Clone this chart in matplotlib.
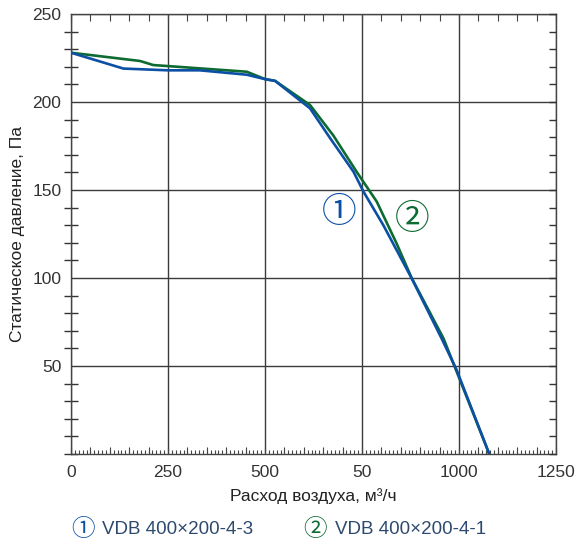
import matplotlib
matplotlib.use("Agg")
import matplotlib.pyplot as plt
from matplotlib.ticker import MultipleLocator, FixedLocator, FixedFormatter, NullFormatter

plt.rcParams['font.family'] = ['Liberation Sans', 'DejaVu Sans']

# ---- data ----
flow_1 = [0, 135, 250, 332, 453, 500, 526, 616, 668, 728, 754, 805, 878, 955, 994, 1078]
pres_1 = [228, 219, 218, 218, 215.5, 213, 212, 196.4, 179.4, 160.4, 149, 130, 99.8, 65.7, 47.7, 0]

flow_2 = [0, 178, 212, 453, 500, 526, 616, 676, 736, 788, 839, 878, 960, 1078]
pres_2 = [228, 223.3, 221, 217.2, 213, 212, 198.3, 181, 160.4, 143.4, 119.7, 100, 65.7, 0]

x_ticks = [0, 250, 500, 750, 1000, 1250]
x_tick_labels = ['0', '250', '500', '50', '1000', '1250']
y_ticks = [50, 100, 150, 200, 250]
y_tick_labels = ['50', '100', '150', '200', '250']

name_1 = 'VDB 400×200-4-3'
name_2 = 'VDB 400×200-4-1'
mark_1 = '①'
mark_2 = '②'

c1 = '#0b50a5'
c2 = '#0d6b32'
txt = '#2d4a6e'
grid_c = '#3a3a3a'

fig = plt.figure(figsize=(5.8, 5.4), dpi=100)
ax = fig.add_axes([71/580, 1-454/540, (556-71)/580, (454-14)/540])
ax.set_xlim(0, 1250)
ax.set_ylim(0, 250)

ax.plot(flow_2, pres_2, color=c2, lw=1.9, solid_joinstyle='round', zorder=3)
ax.plot(flow_1, pres_1, color=c1, lw=1.9, solid_joinstyle='round', zorder=4)

# grid
ax.xaxis.set_major_locator(FixedLocator(x_ticks))
ax.xaxis.set_major_formatter(FixedFormatter(x_tick_labels))
ax.yaxis.set_major_locator(FixedLocator(y_ticks))
ax.yaxis.set_major_formatter(FixedFormatter(y_tick_labels))
ax.grid(True, which='major', color=grid_c, lw=1.0)
ax.xaxis.set_minor_locator(MultipleLocator(10))
ax.yaxis.set_minor_locator(MultipleLocator(10))

ax.tick_params(axis='x', which='major', length=0, pad=8, labelsize=12.5, labelcolor='#333333')
ax.tick_params(axis='x', which='minor', direction='in', length=3, width=0.8,
               top=True, bottom=True, color='#444444')
ax.tick_params(axis='y', which='major', length=0, pad=7, labelsize=12.5, labelcolor='#333333')
ax.tick_params(axis='y', which='minor', direction='inout', length=10, width=1.0,
               left=True, right=False, color='#333333')

for s in ax.spines.values():
    s.set_color('#444444')
    s.set_linewidth(1.0)

# medium ticks every 50 on x (top and bottom)
axx = ax.twiny()
axx.set_xlim(ax.get_xlim())
axx.xaxis.set_major_locator(MultipleLocator(50))
axx.xaxis.set_major_formatter(NullFormatter())
axx.tick_params(axis='x', which='major', direction='in', length=5, width=0.8,
                top=True, bottom=True, color='#444444')
axx.tick_params(axis='x', which='minor', length=0)
for s in axx.spines.values():
    s.set_visible(False)

# right ticks every 10
axy = ax.twinx()
axy.set_ylim(ax.get_ylim())
axy.yaxis.set_major_locator(MultipleLocator(10))
axy.yaxis.set_major_formatter(NullFormatter())
axy.tick_params(axis='y', which='major', direction='in', length=5, width=1.0,
                right=True, left=False, color='#333333')
axy.tick_params(axis='y', which='minor', length=0)
for s in axy.spines.values():
    s.set_visible(False)

ax.set_xlabel('Расход воздуха, м³/ч', fontsize=12.5, color='#222222', labelpad=6)
ax.set_ylabel('Статическое давление, Па', fontsize=12.5, color='#222222', labelpad=5)

# in-chart markers
ax.text(691, 137, mark_1, color=c1, fontsize=25, ha='center', va='center',
        family=['Noto Sans CJK JP', 'DejaVu Sans'], zorder=5)
ax.text(879, 133, mark_2, color=c2, fontsize=25, ha='center', va='center',
        family=['Noto Sans CJK JP', 'DejaVu Sans'], zorder=5)

# legend
ly = 1 - 529/540
fig.text(83/580, ly, mark_1, color=c1, fontsize=17, ha='center', va='center',
         family=['Noto Sans CJK JP', 'DejaVu Sans'])
fig.text(102/580, ly, name_1, color=txt, fontsize=13.5, ha='left', va='center')
fig.text(315/580, ly, mark_2, color=c2, fontsize=17, ha='center', va='center',
         family=['Noto Sans CJK JP', 'DejaVu Sans'])
fig.text(335/580, ly, name_2, color=txt, fontsize=13.5, ha='left', va='center')

fig.savefig('out.png', dpi=100)
